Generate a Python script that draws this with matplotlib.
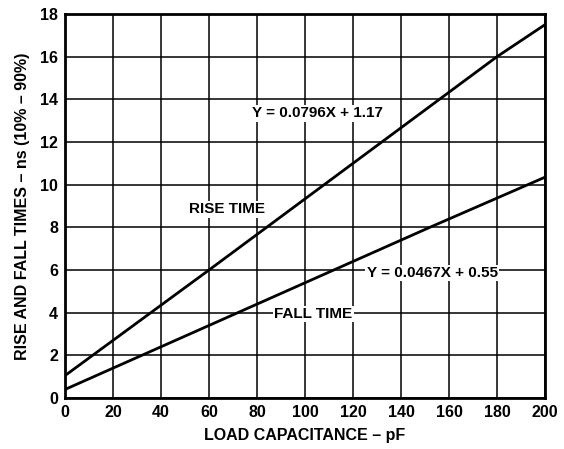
import matplotlib
matplotlib.use("Agg")
import matplotlib.pyplot as plt

plt.rcParams["font.family"] = ["Liberation Sans", "DejaVu Sans"]
plt.rcParams["font.weight"] = "bold"

# values
rise_x = [0, 60, 180, 200]
rise_y = [1.05, 6.0, 16.0, 17.5]
fall_x = [0, 32, 72, 152, 200]
fall_y = [0.4, 2.0, 4.0, 8.0, 10.35]

x_ticks = list(range(0, 201, 20))
y_ticks = list(range(0, 19, 2))

fig = plt.figure(figsize=(5.64, 4.49), dpi=100)
ax = fig.add_axes([65 / 564, 1 - 398 / 449, 480 / 564, 384 / 449])

ax.plot(rise_x, rise_y, color="black", lw=2.0, zorder=3)
ax.plot(fall_x, fall_y, color="black", lw=2.0, zorder=3)

ax.set_xlim(0, 200)
ax.set_ylim(0, 18)
ax.set_xticks(x_ticks)
ax.set_yticks(y_ticks)
ax.grid(True, color="black", lw=1.1)
ax.tick_params(length=0, labelsize=11.5, pad=5)
for lab in ax.get_xticklabels() + ax.get_yticklabels():
    lab.set_fontweight("bold")
for s in ax.spines.values():
    s.set_linewidth(2)

box = dict(facecolor="white", edgecolor="none", pad=1)
fs = 11
ax.text(105, 13.35, "Y = 0.0796X + 1.17", ha="center", va="center",
        fontsize=fs, fontweight="bold", bbox=box, zorder=4)
ax.text(67.5, 8.85, "RISE TIME", ha="center", va="center",
        fontsize=fs, fontweight="bold", bbox=box, zorder=4)
ax.text(153, 5.86, "Y = 0.0467X + 0.55", ha="center", va="center",
        fontsize=fs, fontweight="bold", bbox=box, zorder=4)
ax.text(103.5, 3.94, "FALL TIME", ha="center", va="center",
        fontsize=fs, fontweight="bold", bbox=box, zorder=4)

ax.set_xlabel("LOAD CAPACITANCE – pF", fontsize=11.5, fontweight="bold", labelpad=6)
ax.set_ylabel("RISE AND FALL TIMES – ns (10% – 90%)", fontsize=11.5,
              fontweight="bold", labelpad=7)

fig.savefig("out.png", dpi=100)
